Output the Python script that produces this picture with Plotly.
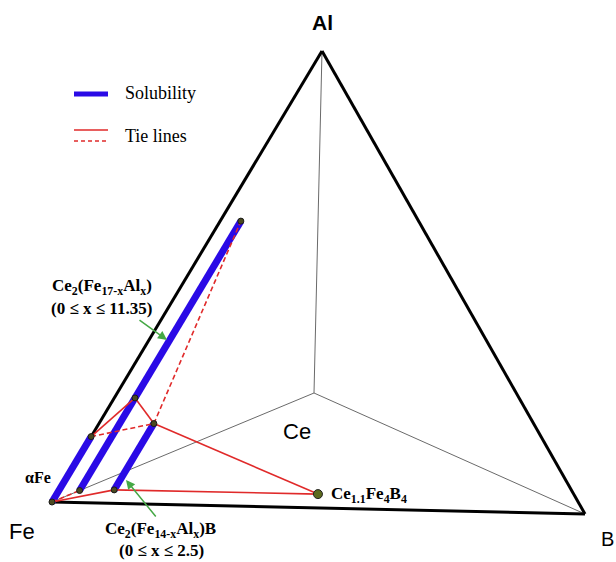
import numpy as np
import plotly.graph_objects as go

# ---------------- data (compositions as atom counts: Fe, Al, B, Ce) ----------------
components = ["Fe", "Al", "B", "Ce"]
alpha_fe_al_max = 0.145          # max Al fraction in alpha-Fe
ce2fe17_x_range = [0.0, 11.35]   # Ce2(Fe17-xAlx)
ce2fe14b_x_range = [0.0, 2.5]    # Ce2(Fe14-xAlx)B
ce2fe17_tie_x = 3.9              # tie-line node on Ce2(Fe17-xAlx)
ce11fe4b4_atoms = [4.0, 0.0, 4.0, 1.1]

# ---------------- projection of the tetrahedron onto the page ----------------
vertex_x = np.array([52, 322, 585, 314], dtype=float)   # Fe, Al, B, Ce
vertex_y = np.array([502, 51, 514, 393], dtype=float)


def proj(atoms):
    a = np.array(atoms, dtype=float)
    a = a / a.sum()
    return float(a @ vertex_x), float(a @ vertex_y)


def ce2fe17(x):
    return [17 - x, x, 0, 2]


def ce2fe14b(x):
    return [14 - x, x, 1, 2]


P_Fe = proj([1, 0, 0, 0])
P_Al = proj([0, 1, 0, 0])
P_B = proj([0, 0, 1, 0])
P_Ce = proj([0, 0, 0, 1])
P_aFe = proj([1 - alpha_fe_al_max, alpha_fe_al_max, 0, 0])
P_217a = proj(ce2fe17(ce2fe17_x_range[0]))
P_217b = proj(ce2fe17(ce2fe17_x_range[1]))
P_217t = proj(ce2fe17(ce2fe17_tie_x))
P_2141a = proj(ce2fe14b(ce2fe14b_x_range[0]))
P_2141b = proj(ce2fe14b(ce2fe14b_x_range[1]))
P_114 = proj(ce11fe4b4_atoms)

fig = go.Figure()


def seg(p, q, color, width, dash="solid"):
    fig.add_trace(go.Scatter(x=[p[0], q[0]], y=[p[1], q[1]], mode="lines",
                             line=dict(color=color, width=width, dash=dash),
                             hoverinfo="skip", showlegend=False))


# hidden edges (grey)
for v in (P_Fe, P_Al, P_B):
    seg(P_Ce, v, "#6a6a6a", 1)
# outer edges (black)
seg(P_Fe, P_Al, "black", 3)
seg(P_Al, P_B, "black", 3)
seg(P_Fe, P_B, "black", 3)

RED = "#e02a2a"
BLUE = "#2a0ae6"
DASH = "5px,3px"
# solubility lines
seg(P_Fe, P_aFe, BLUE, 7)
seg(P_217a, P_217b, BLUE, 7)
seg(P_2141a, P_2141b, BLUE, 7)

# tie lines
seg(P_aFe, P_217t, RED, 1.6)
seg(P_217t, P_2141b, RED, 1.6)
seg(P_2141b, P_114, RED, 1.6)
seg(P_2141a, P_114, RED, 1.6)
seg(P_Fe, P_2141a, RED, 1.6)
seg(P_aFe, P_2141b, RED, 1.6, DASH)
seg(P_2141b, P_217b, RED, 1.6, DASH)
seg(P_Fe, P_217a, RED, 1.6, DASH)

# nodes
nodes = [P_Fe, P_aFe, P_217a, P_217b, P_217t, P_2141a, P_2141b]
fig.add_trace(go.Scatter(x=[p[0] for p in nodes], y=[p[1] for p in nodes], mode="markers",
                         marker=dict(size=6, color="#4a4a20", line=dict(color="#1a1a1a", width=1)),
                         hoverinfo="skip", showlegend=False))
fig.add_trace(go.Scatter(x=[P_114[0]], y=[P_114[1]], mode="markers",
                         marker=dict(size=9, color="#5c6a1e", line=dict(color="#222222", width=1)),
                         hoverinfo="skip", showlegend=False))

# legend (drawn)
seg((74, 94), (108, 94), BLUE, 5)
seg((74, 130), (108, 130), RED, 1.6)
seg((74, 141), (108, 141), RED, 1.6, "4px,3px")

SERIF = "Liberation Serif"
SANS = "Liberation Sans"
ann = []


def text(x, y, s, size, family, xanchor="center"):
    ann.append(dict(x=x, y=y, text=s, showarrow=False, xanchor=xanchor, yanchor="middle",
                    font=dict(size=size, family=family, color="black")))


text(123, 93, "Solubility", 18, SERIF, "left")
text(123, 136, "Tie lines", 18, SERIF, "left")
text(322, 22, "<b>Al</b>", 21, SANS)
text(22, 531, "Fe", 22, SANS)
text(607, 539, "B", 20, SANS)
text(297, 431, "Ce", 22, SANS)
text(38, 477, "<b>αFe</b>", 16, SERIF)
text(102, 287, "<b>Ce<sub>2</sub>(Fe<sub>17-x</sub>Al<sub>x</sub>)</b>", 17, SERIF)
text(101, 308, "<b>(0 ≤ x ≤ 11.35)</b>", 17, SERIF)
text(160, 530, "<b>Ce<sub>2</sub>(Fe<sub>14-x</sub>Al<sub>x</sub>)B</b>", 17, SERIF)
text(161, 550, "<b>(0 ≤ x ≤ 2.5)</b>", 17, SERIF)
text(329, 495, "<b>Ce<sub>1.1</sub>Fe<sub>4</sub>B<sub>4</sub></b>", 17, SERIF, "left")

GREEN = "#45a845"
for head, tail in [((167, 340), (138, 319)), ((126, 480), (157, 518))]:
    ann.append(dict(x=head[0], y=head[1], ax=tail[0], ay=tail[1], axref="x", ayref="y",
                    xref="x", yref="y", showarrow=True, arrowhead=2, arrowsize=1.2,
                    arrowwidth=1.5, arrowcolor=GREEN, text=""))

fig.update_layout(
    width=616, height=562, margin=dict(l=0, r=0, t=0, b=0),
    paper_bgcolor="white", plot_bgcolor="white",
    xaxis=dict(range=[0, 616], visible=False, fixedrange=True),
    yaxis=dict(range=[562, 0], visible=False, fixedrange=True),
    annotations=ann, showlegend=False,
)
fig.write_html("out.html", config={"displayModeBar": False},
               post_script="document.body.style.margin='0';document.body.style.overflow='hidden';")
